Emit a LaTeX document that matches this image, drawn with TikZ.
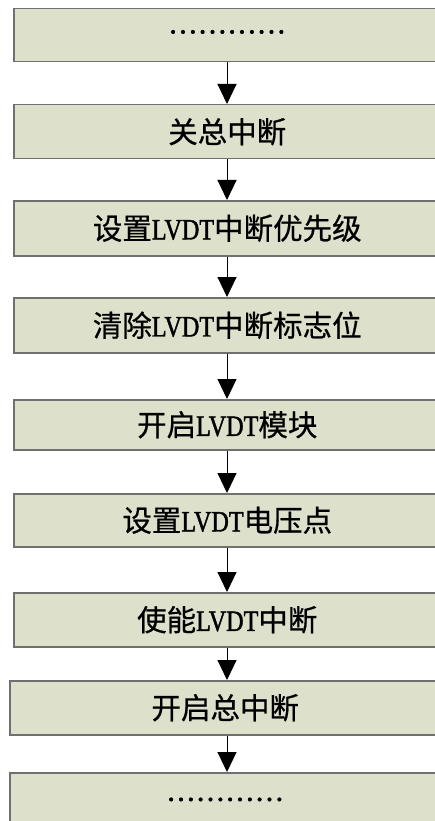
\documentclass[tikz,border=0pt]{standalone}
\usepackage{fontspec}
\usetikzlibrary{arrows.meta}
\newfontfamily\cjk[FakeBold=0.6]{Noto Sans CJK SC}
\newfontfamily\lat[FakeStretch=0.82,FakeBold=1.3]{Liberation Serif}
\newfontfamily\dotfont[FakeBold=2]{Liberation Serif}
\definecolor{boxfill}{HTML}{DDE0CB}
\definecolor{bordercol}{HTML}{707070}
\newcommand{\LV}{{\lat LVDT}}
\newcommand{\DOTS}{{\dotfont\fontsize{29.5}{34}\selectfont\raisebox{7pt}{…………}}}
\begin{document}
\begin{tikzpicture}[x=1pt,y=-1pt,
  box/.style={draw=bordercol, line width=1.5pt, fill=boxfill, minimum width=427pt,
    inner sep=0pt, anchor=north west, font=\cjk\fontsize{29.5}{34}\selectfont},
  arr/.style={-{Triangle[width=19pt,length=20pt]}, line width=1pt, draw=black}]
\useasboundingbox (0,0) rectangle (434,821);
\coordinate (ax) at (227,0);
\node[box, minimum height=53pt] (b1) at (13,8) {\DOTS};
\node[box, minimum height=54pt] (b2) at (13,104) {关总中断};
\node[box, minimum height=55pt] (b3) at (13,200) {设置\LV 中断优先级};
\node[box, minimum height=55pt] (b4) at (13,297) {清除\LV 中断标志位};
\node[box, minimum height=50pt] (b5) at (13,399) {开启\LV 模块};
\node[box, minimum height=53pt] (b6) at (13,493) {设置\LV 电压点};
\node[box, minimum height=54pt] (b7) at (13,592) {使能\LV 中断};
\node[box, minimum height=54pt, minimum width=431pt] (b8) at (9,680) {开启总中断};
\node[box, minimum height=60pt, minimum width=431pt] (b9) at (9,772) {\DOTS};
\foreach \a/\b in {b1/b2,b2/b3,b3/b4,b4/b5,b5/b6,b6/b7,b7/b8,b8/b9}
  \draw[arr] (\a.south -| ax) -- (\b.north -| ax);
\end{tikzpicture}
\end{document}
